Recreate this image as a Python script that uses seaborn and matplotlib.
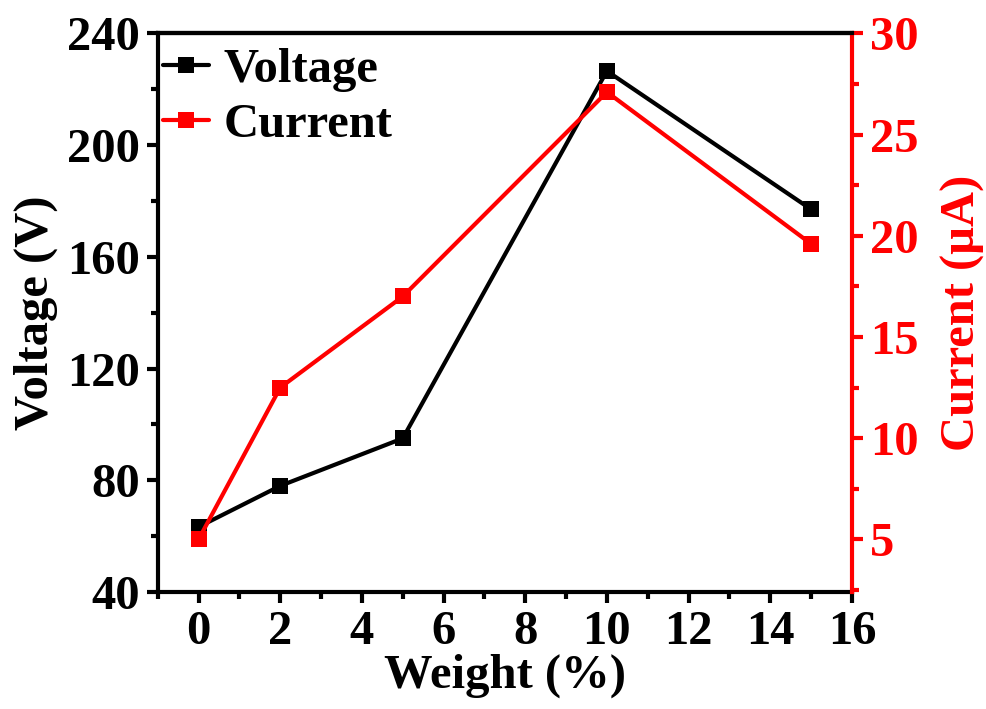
import matplotlib
matplotlib.use("Agg")
import matplotlib.pyplot as plt
import seaborn as sns
import pandas as pd
from matplotlib.ticker import MultipleLocator, AutoMinorLocator
from matplotlib.lines import Line2D

weight = [0, 2, 5, 10, 15]
voltage = [63.3, 78.0, 95.0, 226.5, 177.0]
current = [5.0, 12.5, 17.0, 27.1, 19.6]

sns.set_style("ticks")
plt.rcParams['font.family'] = ['Liberation Serif', 'DejaVu Serif']
plt.rcParams['font.weight'] = 'bold'
plt.rcParams['axes.labelweight'] = 'bold'
for k in ['text.color', 'axes.labelcolor', 'xtick.color', 'ytick.color', 'axes.edgecolor']:
    plt.rcParams[k] = 'black'

df = pd.DataFrame({"Weight": weight, "Voltage": voltage, "Current": current})

fig = plt.figure(figsize=(9.86, 7.09), dpi=100)
ax = fig.add_axes([0.160, 0.165, 0.704, 0.788])
ax2 = ax.twinx()

lw = 3
ms = 11
sns.lineplot(data=df, x="Weight", y="Voltage", ax=ax, color="black", lw=lw,
             marker="s", markersize=ms, markeredgewidth=0, zorder=3)
sns.lineplot(data=df, x="Weight", y="Current", ax=ax2, color="red", lw=lw,
             marker="s", markersize=ms, markeredgewidth=0, zorder=3)

ax.set_xlim(-1, 16)
ax.set_ylim(40, 240)
ax2.set_ylim(2.4, 30)
ax.xaxis.set_major_locator(MultipleLocator(2))
ax.xaxis.set_minor_locator(AutoMinorLocator(2))
ax.yaxis.set_major_locator(MultipleLocator(40))
ax.yaxis.set_minor_locator(AutoMinorLocator(2))
ax2.yaxis.set_major_locator(MultipleLocator(5))
ax2.yaxis.set_minor_locator(AutoMinorLocator(2))

fs = 35
for a in (ax, ax2):
    a.tick_params(which='major', direction='out', length=8, width=3, labelsize=fs, pad=5)
    a.tick_params(which='minor', direction='out', length=5, width=3)
    for s in a.spines.values():
        s.set_linewidth(3)

ax.spines['right'].set_visible(False)
ax2.spines['left'].set_visible(False)
ax2.spines['bottom'].set_visible(False)
ax2.spines['top'].set_color('black')
ax2.spines['right'].set_color('red')
ax2.tick_params(axis='y', which='both', colors='red')
for lab in ax.get_xticklabels() + ax.get_yticklabels() + ax2.get_yticklabels():
    lab.set_fontweight('bold')

ax.set_xlabel("Weight (%)", fontsize=fs, fontweight='bold', labelpad=0)
ax.set_ylabel("Voltage (V)", fontsize=fs, fontweight='bold', labelpad=6)
ax2.set_ylabel("Current (μA)", fontsize=fs, fontweight='bold', color='red', labelpad=16)

handles = [
    Line2D([], [], color='black', lw=lw, marker='s', markersize=ms, markeredgewidth=0),
    Line2D([], [], color='red', lw=lw, marker='s', markersize=ms, markeredgewidth=0),
]
ax2.legend(handles, ["Voltage", "Current"], loc='upper left', frameon=False,
           bbox_to_anchor=(-0.014, 1.0),
           prop={'size': fs, 'weight': 'bold'}, handlelength=0.95,
           handletextpad=0.3, labelspacing=0.22, borderaxespad=0.0,
           borderpad=0.3)

fig.savefig("out.png", dpi=100)
